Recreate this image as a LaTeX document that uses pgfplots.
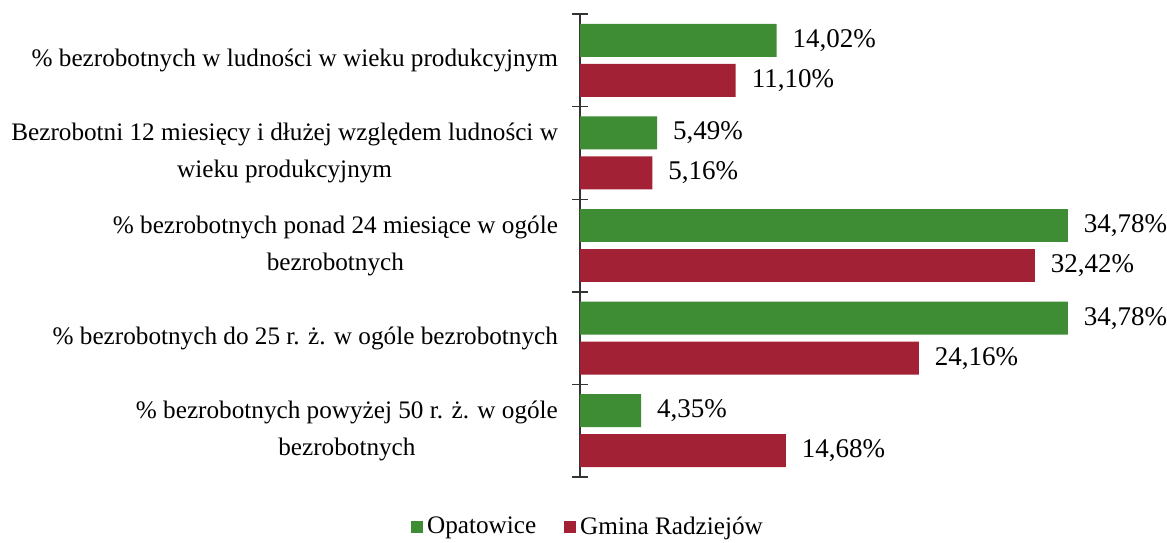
\documentclass[border=0pt]{standalone}
\usepackage{fontspec}
\setmainfont{Liberation Serif}
\usepackage{pgfplots}
\pgfplotsset{compat=1.18}
\definecolor{cgreen}{RGB}{62,140,52}
\definecolor{cred}{RGB}{163,33,52}
\begin{document}
\begin{tikzpicture}
\path[use as bounding box] (-290pt,-32.5pt) rectangle (293.5pt,238.5pt);
\begin{axis}[
  at={(0,0)}, anchor=south west,
  scale only axis, width=252.5pt, height=231.5pt,
  xmin=0, xmax=36, ymin=-0.5, ymax=4.5, y dir=reverse,
  hide x axis, axis y line*=left, y axis line style={-, draw=black!80, line width=0.7pt},
  ytick={0,1,2,3,4},
  yticklabels={{\% bezrobotnych w ludności w wieku produkcyjnym},
    {Bezrobotni 12 miesięcy i dłużej względem ludności w\\wieku produkcyjnym},
    {\% bezrobotnych ponad 24 miesiące w ogóle\\bezrobotnych},
    {\% bezrobotnych do 25 r. ż. w ogóle bezrobotnych},
    {\% bezrobotnych powyżej 50 r. ż. w ogóle\\bezrobotnych}},
  yticklabel style={align=center, font=\fontsize{12.6}{18.5}\selectfont, xshift=-7.5pt},
  major tick length=0pt,
  minor ytick={-0.5,0.5,...,4.5},
  minor tick length=8pt,
  minor tick style={xshift=4pt},
  tick style={draw=black!80, line width=0.7pt},
  xbar, bar width=0.356,
  clip=false,
  nodes near coords={\pgfmathprintnumber[fixed,fixed zerofill,precision=2,use comma,assume math mode=true]{\pgfplotspointmeta}\%},
  every node near coord/.append style={font=\fontsize{13.5}{15}\selectfont, anchor=west, xshift=4.5pt, text=black},
  legend style={at={(axis cs:0.64,4.5)}, anchor=center, yshift=-25pt, draw=none, fill=none,
    font=\fontsize{12.6}{14}\selectfont, legend columns=2,
    /tikz/every even column/.append style={column sep=12pt}},
  legend image code/.code={\fill[#1] (0pt,-3pt) rectangle (6pt,3pt);},
]
\addplot[fill=cgreen, draw=none, bar shift=-0.216] coordinates {(14.02,0) (5.49,1) (34.78,2) (34.78,3) (4.35,4)};
\addplot[fill=cred, draw=none, bar shift=0.216] coordinates {(11.10,0) (5.16,1) (32.42,2) (24.16,3) (14.68,4)};
\legend{Opatowice, Gmina Radziejów}
\end{axis}
\end{tikzpicture}
\end{document}
